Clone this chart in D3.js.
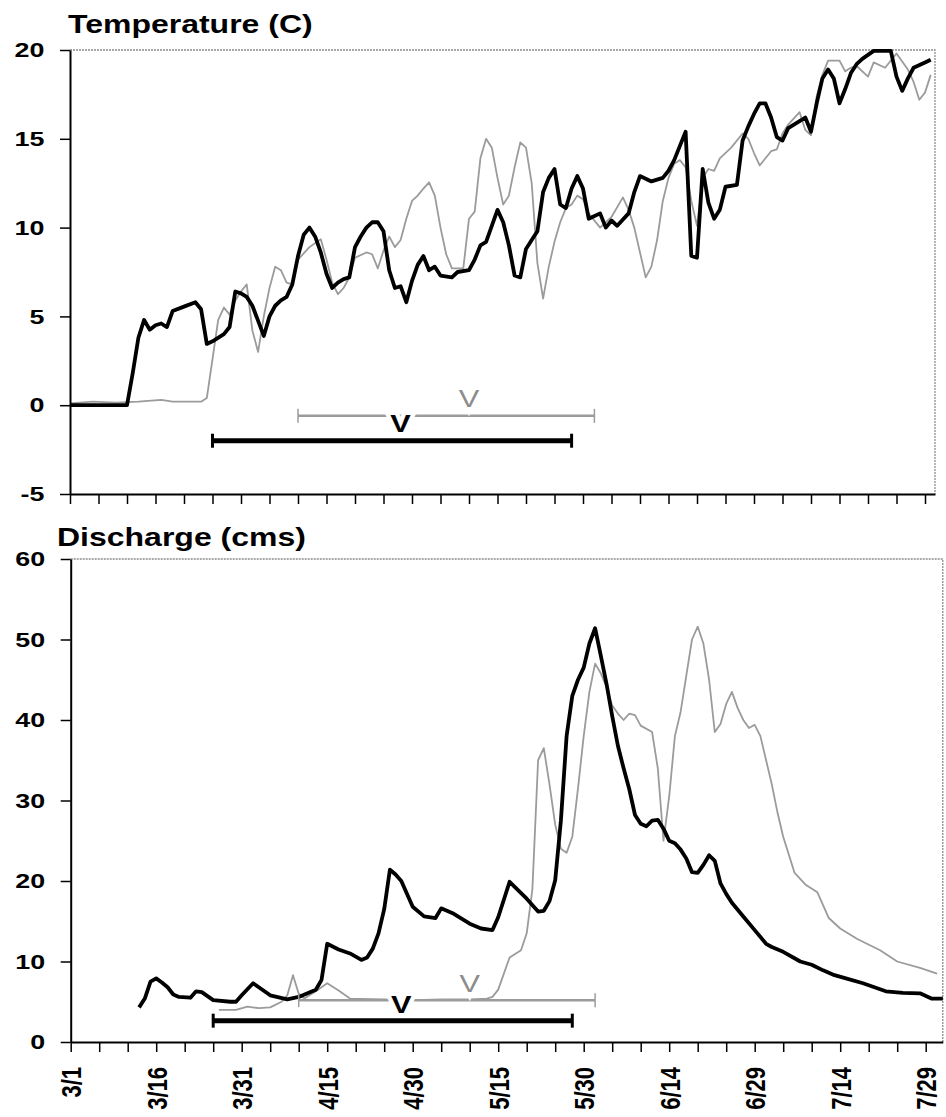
<!DOCTYPE html>
<html>
<head>
<meta charset="utf-8">
<script src="https://cdn.jsdelivr.net/npm/d3@7"></script>
<style>
  body { margin: 0; background: #fff; }
  svg text { font-family: "Liberation Sans", Arial, sans-serif; font-weight: bold; fill: #000; }
  .title { font-size: 25px; }
  .tick text { font-size: 21px; }
  .marker { font-size: 24px; }
</style>
</head>
<body>
<svg id="chart"></svg>
<script>
// temperature (C), black = thick series, gray = thin series
const tempBlack = [
  ["3/1",0],["3/11",0],["3/12",1.8],["3/13",3.8],["3/14",4.8],["3/15",4.25],["3/16",4.5],["3/17",4.6],
  ["3/18",4.4],["3/19",5.3],["3/21",5.55],["3/23",5.8],["3/24",5.4],["3/25",3.45],["3/26",3.6],["3/28",4.0],
  ["3/29",4.4],["3/30",6.4],["3/31",6.3],["4/1",6.1],["4/2",5.6],["4/4",3.9],["4/5",5.0],["4/6",5.6],
  ["4/7",5.9],["4/8",6.1],["4/9",6.8],["4/10",8.4],["4/11",9.6],["4/12",10.0],["4/13",9.5],["4/14",8.6],
  ["4/15",7.4],["4/16",6.6],["4/17",6.9],["4/18",7.1],["4/19",7.2],["4/20",8.9],["4/21",9.5],["4/22",10.0],
  ["4/23",10.3],["4/24",10.3],["4/25",9.8],["4/26",7.6],["4/27",6.6],["4/28",6.7],["4/29",5.8],["4/30",7.0],
  ["5/1",7.9],["5/2",8.4],["5/3",7.6],["5/4",7.8],["5/5",7.3],["5/7",7.2],["5/8",7.5],["5/10",7.6],
  ["5/11",8.2],["5/12",9.0],["5/13",9.2],["5/14",10.1],["5/15",11.0],["5/16",10.3],["5/17",9.0],["5/18",7.3],
  ["5/19",7.2],["5/20",8.8],["5/21",9.3],["5/22",9.8],["5/23",12.0],["5/24",12.8],["5/25",13.3],["5/26",11.3],
  ["5/27",11.1],["5/28",12.2],["5/29",12.9],["5/30",12.2],["5/31",10.5],["6/2",10.8],["6/3",10.0],["6/4",10.4],
  ["6/5",10.1],["6/7",10.8],["6/8",12.0],["6/9",12.9],["6/11",12.6],["6/13",12.8],["6/14",13.2],["6/15",13.8],
  ["6/16",14.6],["6/17",15.4],["6/18",8.4],["6/19",8.3],["6/20",13.3],["6/21",11.4],["6/22",10.5],["6/23",11.0],
  ["6/24",12.3],["6/26",12.4],["6/27",14.9],["6/28",15.7],["6/29",16.4],["6/30",17.0],["7/1",17.0],["7/2",16.2],
  ["7/3",15.1],["7/4",14.9],["7/5",15.6],["7/7",16.0],["7/8",16.2],["7/9",15.4],["7/10",17.0],["7/11",18.4],
  ["7/12",18.9],["7/13",18.4],["7/14",17.0],["7/15",17.8],["7/16",18.7],["7/17",19.2],["7/18",19.5],["7/20",19.95],
  ["7/23",19.95],["7/24",18.5],["7/25",17.7],["7/26",18.4],["7/27",19.0],["7/29",19.3],["7/30",19.45]
];

const tempGray = [
  ["3/1",0.1],["3/5",0.2],["3/9",0.15],["3/13",0.2],["3/17",0.3],["3/19",0.2],["3/24",0.2],["3/25",0.4],
  ["3/26",2.6],["3/27",4.8],["3/28",5.5],["3/29",5.1],["3/30",5.9],["3/31",6.4],["4/1",6.8],["4/2",4.2],
  ["4/3",3.0],["4/4",5.0],["4/5",6.6],["4/6",7.8],["4/7",7.6],["4/8",6.9],["4/9",6.8],["4/10",8.2],
  ["4/12",8.9],["4/14",9.35],["4/15",8.2],["4/16",6.9],["4/17",6.25],["4/18",6.6],["4/19",7.2],["4/20",8.3],
  ["4/22",8.6],["4/23",8.5],["4/24",7.7],["4/25",8.7],["4/26",9.5],["4/27",8.9],["4/28",9.3],["4/29",10.5],
  ["4/30",11.5],["5/1",11.8],["5/2",12.2],["5/3",12.55],["5/4",11.8],["5/5",10.0],["5/6",8.5],["5/7",7.7],
  ["5/9",7.7],["5/10",10.5],["5/11",10.9],["5/12",13.9],["5/13",15.0],["5/14",14.5],["5/15",12.8],["5/16",11.3],
  ["5/17",11.8],["5/18",13.4],["5/19",14.8],["5/20",14.5],["5/21",12.5],["5/22",8.0],["5/23",6.0],["5/24",7.8],
  ["5/25",9.2],["5/26",10.3],["5/27",11.1],["5/28",11.3],["5/29",11.8],["5/30",11.6],["5/31",10.8],["6/2",10.0],
  ["6/4",10.6],["6/6",11.7],["6/7",11.0],["6/8",10.0],["6/9",8.6],["6/10",7.2],["6/11",7.8],["6/12",9.3],
  ["6/13",11.5],["6/14",12.8],["6/15",13.6],["6/16",13.8],["6/17",13.4],["6/18",11.5],["6/19",10.1],["6/20",12.8],
  ["6/21",13.3],["6/22",13.2],["6/23",13.9],["6/25",14.5],["6/27",15.3],["6/28",15.0],["6/29",14.2],["6/30",13.5],
  ["7/2",14.3],["7/3",14.4],["7/4",15.3],["7/5",15.8],["7/7",16.5],["7/8",15.5],["7/9",15.2],["7/10",17.4],
  ["7/11",18.6],["7/12",19.4],["7/14",19.4],["7/15",18.8],["7/16",19.0],["7/17",19.1],["7/19",18.5],["7/20",19.3],
  ["7/22",19.0],["7/24",19.8],["7/26",18.9],["7/27",18.2],["7/28",17.2],["7/29",17.6],["7/30",18.6]
];

// discharge (cms)
const flowBlack = [
  ["3/13",4.3],["3/14",5.4],["3/15",7.5],["3/16",7.9],["3/17",7.4],["3/18",6.8],["3/19",5.9],["3/20",5.6],
  ["3/22",5.5],["3/23",6.3],["3/24",6.2],["3/26",5.2],["3/29",5.0],["3/30",5.0],["3/31",5.8],["4/2",7.3],
  ["4/3",6.8],["4/5",5.8],["4/8",5.3],["4/10",5.6],["4/13",6.5],["4/14",7.7],["4/15",12.2],["4/17",11.5],
  ["4/19",11.0],["4/21",10.2],["4/22",10.5],["4/23",11.6],["4/24",13.5],["4/25",16.5],["4/26",21.4],["4/27",20.8],
  ["4/28",20.0],["4/30",16.8],["5/2",15.6],["5/4",15.4],["5/5",16.6],["5/7",16.0],["5/10",14.7],["5/12",14.1],
  ["5/14",13.9],["5/15",15.5],["5/17",19.9],["5/20",17.8],["5/22",16.2],["5/23",16.3],["5/24",17.5],["5/25",20.1],
  ["5/26",27.5],["5/27",38.0],["5/28",43.0],["5/29",45.0],["5/30",46.5],["5/31",49.5],["6/1",51.4],["6/2",48.0],
  ["6/3",44.5],["6/4",40.5],["6/5",36.8],["6/6",34.0],["6/7",31.4],["6/8",28.2],["6/9",27.1],["6/10",26.8],
  ["6/11",27.5],["6/12",27.6],["6/13",26.5],["6/14",25.0],["6/15",24.7],["6/16",23.9],["6/17",22.8],["6/18",21.1],
  ["6/19",21.0],["6/20",22.0],["6/21",23.2],["6/22",22.5],["6/23",19.7],["6/24",18.4],["6/25",17.3],["6/27",15.6],
  ["6/29",13.9],["7/1",12.2],["7/2",11.8],["7/4",11.2],["7/7",10.0],["7/9",9.6],["7/11",8.9],["7/13",8.3],
  ["7/15",7.9],["7/18",7.3],["7/20",6.8],["7/22",6.3],["7/25",6.1],["7/28",6.05],["7/30",5.4],["8/1",5.4]
];

const flowGray = [
  ["3/27",4.0],["3/30",4.0],["4/1",4.4],["4/3",4.2],["4/5",4.3],["4/7",5.0],["4/8",5.8],["4/9",8.3],
  ["4/10",6.0],["4/11",5.4],["4/13",6.3],["4/15",7.3],["4/17",6.4],["4/19",5.4],["4/25",5.3],["4/30",5.2],
  ["5/5",5.3],["5/10",5.3],["5/13",5.4],["5/14",5.6],["5/15",6.5],["5/17",10.5],["5/19",11.4],["5/20",13.5],
  ["5/21",19.0],["5/22",35.0],["5/23",36.5],["5/24",32.0],["5/25",27.0],["5/26",24.0],["5/27",23.5],["5/28",25.5],
  ["5/29",31.5],["5/30",38.0],["5/31",43.5],["6/1",47.0],["6/2",45.8],["6/3",44.1],["6/4",41.8],["6/5",40.8],
  ["6/6",40.0],["6/7",40.8],["6/8",40.6],["6/9",39.3],["6/11",38.5],["6/12",34.0],["6/13",25.0],["6/14",30.5],
  ["6/15",38.0],["6/16",41.0],["6/17",45.5],["6/18",50.0],["6/19",51.6],["6/20",49.5],["6/21",45.0],["6/22",38.5],
  ["6/23",39.5],["6/24",42.0],["6/25",43.5],["6/26",41.5],["6/27",40.0],["6/28",39.0],["6/29",39.4],["6/30",38.0],
  ["7/1",35.0],["7/2",32.0],["7/3",28.5],["7/4",25.5],["7/6",21.0],["7/8",19.5],["7/10",18.6],["7/12",15.4],
  ["7/14",14.1],["7/17",12.8],["7/21",11.4],["7/24",10.0],["7/28",9.2],["7/31",8.5]
];

// date ranges with their "V" marker, drawn under each plot
const tempRanges = [
  { color: "gray", from: "4/10", to: "6/1", level: -0.6, mark: "5/10", markLevel: -0.1 },
  { color: "black", from: "3/26", to: "5/28", level: -2, mark: "4/28", markLevel: -1.5 }
];
const flowRanges = [
  { color: "gray", from: "4/10", to: "6/1", level: 5.2, mark: "5/10", markLevel: 6.2 },
  { color: "black", from: "3/26", to: "5/28", level: 2.65, mark: "4/28", markLevel: 3.6 }
];

const tempTicks = [-5, 0, 5, 10, 15, 20];
const flowTicks = [0, 10, 20, 30, 40, 50, 60];
const dayTicks = d3.range(0, 151, 5);
const labelEvery = 15;

const width = 946;
const height = 1117;
const dayPx = 5.7;
const stretch = 1.28; // the original glyphs are wider than they are tall

const start = new Date(Date.UTC(2001, 2, 1));
const parseDate = (s) => d3.utcParse("%m/%d/%Y")(s + "/2001");
const fmtDay = d3.utcFormat("%-m/%-d");

const svg = d3.select("#chart").attr("width", width).attr("height", height);
svg.append("rect").attr("width", width).attr("height", height).attr("fill", "#fff");

function drawPanel(p) {
  const x = d3
    .scaleUtc()
    .domain([start, new Date(+start + p.days * 864e5)])
    .range([p.left, p.left + p.days * dayPx]);
  const y = d3.scaleLinear().domain(p.yDomain).range([p.bottom, p.top]);

  const g = svg.append("g");

  // top and right frame
  g.append("path")
    .attr("d", `M${x.range()[0]},${p.top}H${x.range()[1]}V${p.bottom}`)
    .attr("fill", "none")
    .attr("stroke", "#8c8c8c")
    .attr("stroke-width", 1.3)
    .attr("stroke-dasharray", "2,1");

  const line = d3
    .line()
    .x((d) => x(parseDate(d[0])))
    .y((d) => y(d[1]));

  g.append("path")
    .datum(p.gray)
    .attr("d", line)
    .attr("fill", "none")
    .attr("stroke", "#9b9b9b")
    .attr("stroke-width", 1.8)
    .attr("stroke-linejoin", "round");

  g.append("path")
    .datum(p.black)
    .attr("d", line)
    .attr("fill", "none")
    .attr("stroke", "#000")
    .attr("stroke-width", 3.8)
    .attr("stroke-linejoin", "round");

  // range bars
  p.ranges.forEach((r) => {
    const dark = r.color === "black";
    const col = dark ? "#000" : "#9b9b9b";
    const yy = y(r.level);
    g.append("line")
      .attr("x1", x(parseDate(r.from)))
      .attr("x2", x(parseDate(r.to)))
      .attr("y1", yy)
      .attr("y2", yy)
      .attr("stroke", col)
      .attr("stroke-width", dark ? 5 : 2.5);
    [r.from, r.to].forEach((d) => {
      g.append("line")
        .attr("x1", x(parseDate(d)))
        .attr("x2", x(parseDate(d)))
        .attr("y1", yy - 7)
        .attr("y2", yy + 7)
        .attr("stroke", col)
        .attr("stroke-width", dark ? 3 : 1.5);
    });
  });

  p.ranges.forEach((r) => {
    const dark = r.color === "black";
    g.append("text")
      .attr("class", "marker")
      .attr("transform", `translate(${x(parseDate(r.mark))},${y(r.markLevel)}) scale(${stretch},1)`)
      .attr("text-anchor", "middle")
      .style("font-weight", dark ? "bold" : "normal")
      .style("fill", dark ? "#000" : "#8c8c8c")
      .style("stroke", "#fff")
      .style("stroke-width", 7)
      .style("paint-order", "stroke")
      .text("V");
  });

  // axes
  const yAxis = d3
    .axisLeft(y)
    .tickValues(p.yTicks)
    .tickFormat((d) => String(d))
    .tickSize(10)
    .tickSizeOuter(0)
    .tickPadding(10);

  const ya = g
    .append("g")
    .attr("transform", `translate(${p.left}, 0)`)
    .call(yAxis);
  ya.select(".domain").attr("stroke-width", 2);
  ya.selectAll(".tick line").attr("stroke-width", 1.5);
  ya.selectAll(".tick text").attr("transform", `scale(${stretch},1)`);

  const tickDates = dayTicks.map((d) => d3.utcDay.offset(start, d));
  const xAxis = d3
    .axisBottom(x)
    .tickValues(tickDates)
    .tickFormat((d, i) => (p.labels && dayTicks[i] % labelEvery === 0 ? fmtDay(d) : ""))
    .tickSize(10)
    .tickSizeOuter(0);

  const xa = g
    .append("g")
    .attr("transform", `translate(0, ${p.bottom})`)
    .call(xAxis);
  xa.select(".domain").attr("stroke-width", 2);
  xa.selectAll(".tick line").attr("stroke-width", 1.5);
  xa.selectAll(".tick text")
    .attr("y", 0)
    .attr("x", -25)
    .attr("dy", "0.36em")
    .attr("text-anchor", "end")
    .attr("transform", `scale(${stretch},1) rotate(-90)`)
    .style("font-size", "22px");

  svg.append("text")
    .attr("class", "title")
    .attr("transform", `translate(${p.titleX}, ${p.titleY}) scale(${stretch},1)`)
    .text(p.title);
}

drawPanel({
  title: "Temperature (C)",
  titleX: 68,
  titleY: 33,
  left: 70,
  days: 151.75,
  top: 50,
  bottom: 494,
  yDomain: [-5, 20],
  yTicks: tempTicks,
  black: tempBlack,
  gray: tempGray,
  ranges: tempRanges,
  labels: false
});

drawPanel({
  title: "Discharge (cms)",
  titleX: 57,
  titleY: 546,
  left: 70.7,
  days: 153,
  top: 559,
  bottom: 1042,
  yDomain: [0, 60],
  yTicks: flowTicks,
  black: flowBlack,
  gray: flowGray,
  ranges: flowRanges,
  labels: true
});
</script>
</body>
</html>
